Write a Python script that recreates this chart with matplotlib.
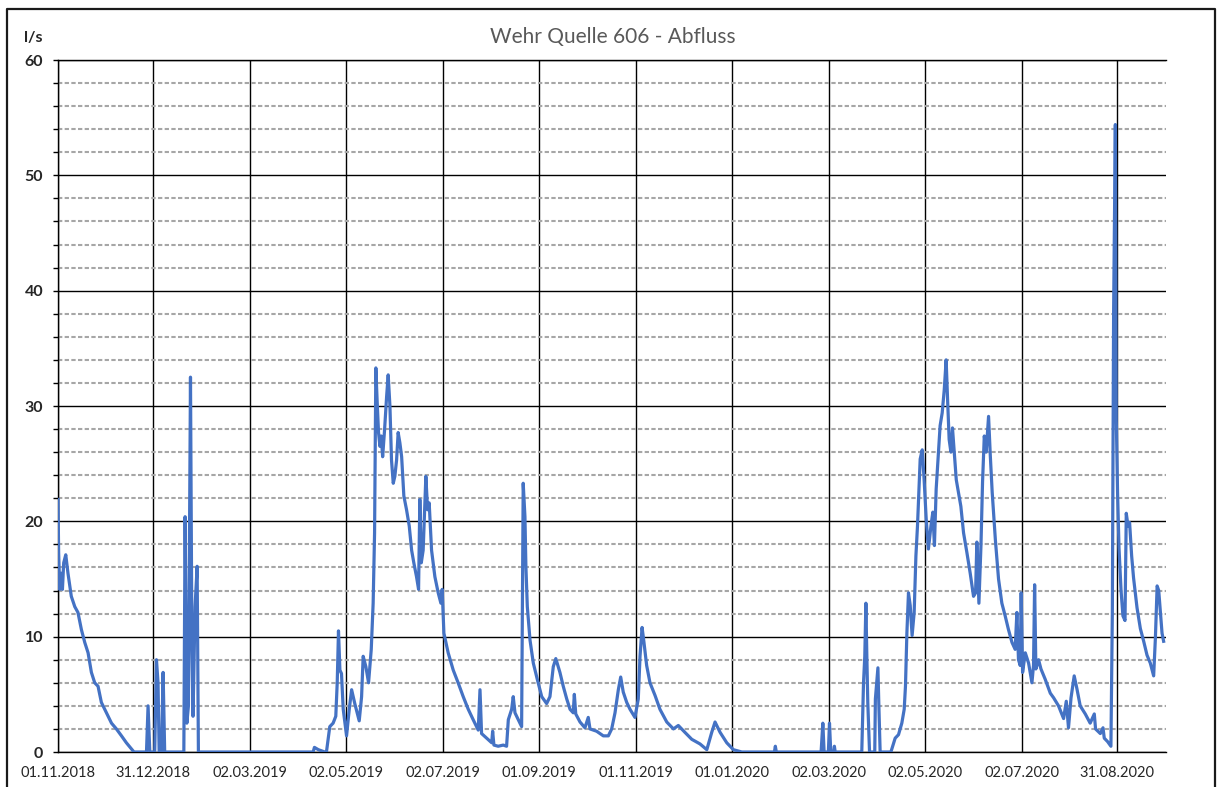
import matplotlib
matplotlib.use("Agg")
import matplotlib.pyplot as plt
from matplotlib.ticker import MultipleLocator
from matplotlib.lines import Line2D
import pandas as pd

# ---------------- data ----------------
start_date = "2018-11-01"
end_date = "2020-10-01"

# days since start_date
days = [
    0.0, 0.4, 1.1, 2.1, 2.8, 3.6, 4.9, 6.3, 8.4, 10.6, 12.6, 14.8, 16.9, 19.0, 21.1,
    23.2, 25.3, 27.4, 30.6, 33.8, 36.9, 40.1, 43.2, 47.4, 48.0, 55.9, 56.9, 58.0,
    61.1, 62.2, 63.2, 63.9, 65.4, 66.4, 67.4, 79.5, 80.3, 81.4, 82.4, 83.7, 84.6,
    85.3, 86.6, 87.9, 88.7, 161.2, 162.0, 164.5, 168.6,
    169.6, 171.7, 173.8, 175.5, 176.4, 177.2, 178.1, 179.1, 180.2, 182.3, 184.0,
    185.5, 187.5, 189.0, 190.3, 191.8, 192.8, 194.5, 196.2, 197.9, 199.1, 200.0,
    200.8, 201.6, 202.5, 203.4, 204.2, 205.1, 206.3, 207.6, 208.6, 209.7, 210.7,
    211.8, 212.8, 213.9, 214.9, 216.0, 217.1, 218.5, 220.2, 221.9, 223.4, 224.8,
    226.5, 227.8, 228.6, 229.5, 230.7, 232.4, 233.5, 234.5, 236.0, 238.1, 240.2,
    241.9, 242.7, 243.8, 246.5, 249.7, 252.8, 256.0, 259.2, 262.3, 265.5, 266.6,
    267.6, 270.8, 274.0, 274.6, 275.4, 278.1, 281.3, 283.4, 284.5, 286.6, 287.6,
    288.7, 290.8, 292.9, 293.9, 295.0, 295.6, 296.5, 298.2, 300.3, 302.8, 305.6,
    308.7, 310.8, 312.9, 314.5,
    317.1, 319.2, 321.4, 323.5, 325.5, 326.2, 327.1, 329.8, 332.9, 335.0, 336.1,
    340.3, 344.5, 347.7, 349.8, 351.9, 354.0, 355.5, 357.1, 359.3, 361.4, 364.5,
    366.6, 367.7, 369.0, 370.2, 371.9, 374.0, 377.2, 380.3, 384.6, 388.8, 391.9,
    396.1, 400.4, 405.6, 409.9, 413.0, 415.1, 418.3, 422.5, 426.7, 432.0,
    452.6, 453.2, 453.8, 482.1, 483.2, 484.0, 486.7, 487.4, 488.2, 490.0, 490.5,
    491.0, 507.8,
    508.9, 509.7, 510.4, 511.0, 511.6, 512.7, 516.0, 516.4, 518.0, 518.6, 519.4,
    526.2, 528.9, 531.0, 533.1, 534.6, 535.4, 536.3, 537.3, 538.4, 539.6, 540.9,
    542.0, 543.0, 543.9, 544.7, 546.0, 547.2, 548.5, 549.9, 551.5, 552.7, 553.7,
    554.8, 556.1, 557.3, 558.6, 559.9, 561.1, 562.0, 563.0, 564.1, 565.1, 566.2,
    567.5, 568.9, 570.4, 572.1, 574.2, 576.3, 578.4, 579.7, 580.5, 581.8, 583.1,
    584.1, 585.2, 586.4, 587.9, 589.0, 590.2, 592.2, 594.2, 596.3, 598.4, 600.5,
    602.7, 604.7, 605.8, 606.8, 607.9, 608.5, 609.4, 611.1, 613.2, 615.3, 616.3,
    617.0, 617.8, 619.5, 621.0, 623.7, 626.9,
    629.0, 632.1, 635.3, 637.0, 638.4, 640.0, 642.0, 643.7, 645.8, 649.0, 652.1,
    654.7, 655.5, 658.5, 660.2, 661.0, 663.1, 665.2, 666.1, 666.9, 668.0, 668.6,
    669.4, 670.3, 671.6, 672.8, 674.1, 674.9, 676.0, 677.0, 678.3, 679.5, 681.7,
    683.8, 685.9, 688.0, 690.1, 692.2, 693.3, 694.4, 695.4, 696.5, 697.5, 698.5,
]

# discharge in l/s
flow = [
    21.9, 17.3, 14.1, 15.5, 14.1, 16.4, 17.1, 15.5, 13.5, 12.6, 12.1, 10.6, 9.5, 8.6, 6.9,
    6.0, 5.7, 4.3, 3.4, 2.5, 2.0, 1.4, 0.8, 0.1, 0.0, 0.0, 4.0, 0.0,
    0.0, 8.0, 6.0, 0.0, 0.0, 6.9, 0.0, 0.0, 20.4, 2.5, 4.0, 32.5, 9.2,
    3.1, 12.6, 16.1, 0.0, 0.0, 0.4, 0.2, 0.0,
    0.0, 2.2, 2.5, 3.1, 6.0, 10.5, 7.1, 6.8, 3.7, 1.4, 3.7,
    5.4, 4.2, 3.4, 2.7, 4.8, 8.3, 7.4, 6.0, 8.9, 12.9, 19.0,
    33.3, 30.5, 27.7, 26.5, 27.4, 25.6, 27.9, 30.8, 32.7, 30.0, 25.3,
    23.3, 23.9, 25.3, 27.7, 26.8, 25.6, 22.2, 21.0, 19.6, 17.5, 16.4,
    15.2, 14.1, 21.9, 16.4, 17.5, 23.9, 21.0, 21.6, 17.5, 15.2, 13.8,
    12.9, 14.1, 10.3, 8.6, 7.1, 6.0, 4.8, 3.7, 2.8, 1.9, 5.4,
    1.6, 1.2, 0.8, 1.8, 0.6, 0.5, 0.6, 0.5, 2.8, 3.7, 4.8,
    3.4, 2.8, 2.2, 23.3, 20.4, 16.1, 12.6, 9.7, 7.7, 6.3, 4.8,
    4.2, 4.8, 7.4, 8.1,
    6.9, 5.7, 4.6, 3.7, 3.4, 5.0, 3.3, 2.6, 2.1, 3.0, 2.0,
    1.8, 1.4, 1.4, 2.0, 3.4, 5.4, 6.5, 5.2, 4.3, 3.7, 3.0,
    4.6, 8.3, 10.8, 9.5, 7.5, 6.0, 4.9, 3.7, 2.6, 2.0, 2.3,
    1.7, 1.1, 0.7, 0.2, 1.7, 2.6, 1.7, 0.8, 0.2, 0.0,
    0.0, 0.5, 0.0, 0.0, 2.5, 0.0, 0.0, 2.5, 0.0, 0.0, 0.5,
    0.0, 0.0,
    6.0, 8.3, 12.9, 8.3, 4.3, 0.0, 0.0, 4.6, 7.3, 4.0, 0.0,
    0.0, 1.2, 1.5, 2.5, 3.7, 5.7, 10.3, 13.8, 12.7, 10.1, 12.1,
    17.0, 19.6, 22.8, 25.4, 26.2, 23.6, 20.2, 17.6, 19.6, 20.8, 17.9,
    22.8, 25.7, 28.3, 29.4, 31.4, 34.0, 30.6, 27.1, 26.0, 28.1, 26.0,
    23.6, 22.5, 21.3, 19.0, 17.3, 15.5, 13.5, 13.8, 18.2, 12.9, 17.9,
    23.4, 27.4, 26.0, 29.1, 25.7, 22.5, 18.4, 15.0, 12.9, 11.8, 10.6,
    9.5, 8.9, 12.1, 8.0, 7.5, 13.8, 6.9, 8.6, 7.7, 6.0, 7.5,
    14.5, 7.2, 8.0, 7.2, 6.3, 5.1,
    4.7, 4.0, 2.9, 4.4, 2.1, 4.7, 6.6, 5.5, 4.0, 3.3, 2.5,
    3.3, 2.0, 1.6, 2.1, 1.2, 0.9, 0.5, 12.1, 38.1, 54.4, 28.8,
    22.5, 17.7, 14.0, 11.8, 11.4, 20.7, 19.6, 19.9, 17.0, 15.1, 12.5,
    10.7, 9.6, 8.4, 7.7, 6.6, 9.9, 14.4, 14.0, 12.1, 10.3, 9.6,
]

tick_dates = ["2018-11-01", "2018-12-31", "2019-03-02", "2019-05-02", "2019-07-02",
              "2019-09-01", "2019-11-01", "2020-01-01", "2020-03-02", "2020-05-02",
              "2020-07-02", "2020-08-31"]
tick_labels = ["01.11.2018", "31.12.2018", "02.03.2019", "02.05.2019", "02.07.2019",
               "01.09.2019", "01.11.2019", "01.01.2020", "02.03.2020", "02.05.2020",
               "02.07.2020", "31.08.2020"]
title_text = "Wehr Quelle 606 - Abfluss"
unit_text = "l/s"

# ---------------- style ----------------
plt.rcParams['font.family'] = ['Lato', 'DejaVu Sans']
plt.rcParams['lines.scale_dashes'] = False

W, H = 1219, 787
fig = plt.figure(figsize=(W / 100, H / 100), dpi=100)
fig.patch.set_facecolor('white')

x0, x1, ytop, ybot = 58, 1166, 60, 752
ax = fig.add_axes([x0 / W, (H - ybot) / H, (x1 - x0) / W, (ybot - ytop) / H])

t = pd.Timestamp(start_date) + pd.to_timedelta(days, unit='D')
ax.plot(t, flow, color='#4472C4', lw=2.3, zorder=3, solid_joinstyle='round')

ax.set_xlim(pd.Timestamp(start_date), pd.Timestamp(end_date))
ax.set_ylim(0, 60)
ax.yaxis.set_major_locator(MultipleLocator(10))
ax.yaxis.set_minor_locator(MultipleLocator(2))
ax.set_xticks(pd.to_datetime(tick_dates))
ax.set_xticklabels(tick_labels)

ax.grid(which='major', axis='both', color='black', lw=1.0, zorder=1)
ax.grid(which='minor', axis='y', color='#A6A6A6', lw=1.5,
        linestyle=(0, (3.1, 1.7)), zorder=1)
ax.set_axisbelow(True)

for s in ['left', 'bottom', 'top']:
    ax.spines[s].set_color('black')
    ax.spines[s].set_linewidth(1.0)
ax.spines['right'].set_visible(False)

ax.tick_params(axis='y', which='both', direction='out', length=3.6, width=1.0,
               color='black', pad=7, labelsize=11.5, labelcolor='#262626')
for lab in ax.get_yticklabels():
    lab.set_fontweight('bold')
ax.tick_params(axis='x', which='both', length=0, pad=10, labelsize=10.5,
               labelcolor='#262626')

fig.text(613 / W, 1 - 37 / H, title_text, ha='center', va='center',
         fontsize=15, color='#595959')
fig.text(33 / W, 1 - 38 / H, unit_text, ha='center', va='center',
         fontsize=11.5, color='#262626', fontweight='bold')

# outer frame (left, top, right)
fx0, fx1, fy = 7 / W, 1215 / W, 1 - 9 / H
fig.add_artist(Line2D([fx0, fx0, fx1, fx1], [0, fy, fy, 0], transform=fig.transFigure,
                      color='#1a1a1a', lw=1.6))

fig.savefig('out.png', dpi=100)
